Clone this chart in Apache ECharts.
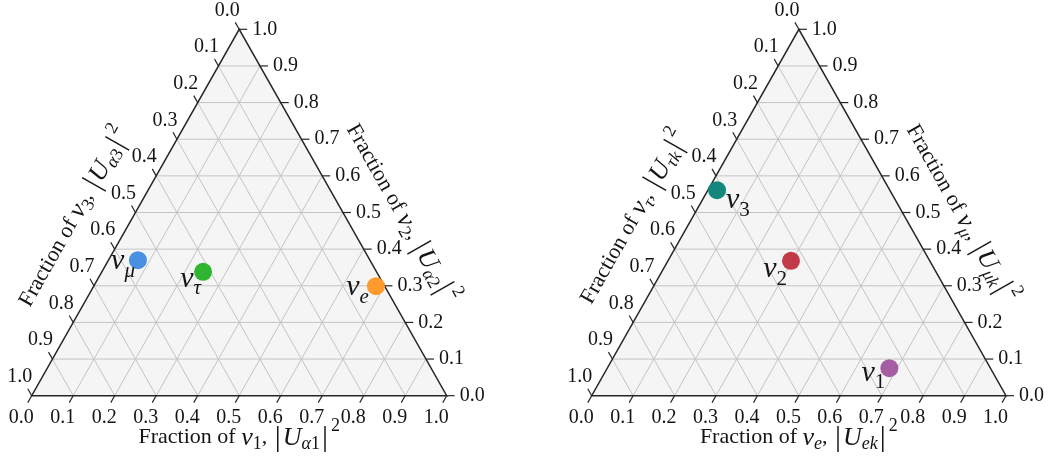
<!DOCTYPE html>
<html><head><meta charset="utf-8">
<script src="https://cdn.jsdelivr.net/npm/echarts@6/dist/echarts.min.js"></script>
<style>html,body{margin:0;padding:0;background:#fff}#c{width:1051px;height:466px}</style>
</head><body><div id="c"></div>
<script>
// ---- axis ticks ----
const tickValues = [0, 0.1, 0.2, 0.3, 0.4, 0.5, 0.6, 0.7, 0.8, 0.9, 1.0];
const tickLabels = ['0.0','0.1','0.2','0.3','0.4','0.5','0.6','0.7','0.8','0.9','1.0'];
const gridValues = [0.1, 0.2, 0.3, 0.4, 0.5, 0.6, 0.7, 0.8, 0.9];

// ---- left panel: flavour states (fractions of nu1, nu2, nu3) ----
const flavourNames = ['e', 'μ', 'τ'];
const flavourFrac1 = [0.680, 0.071, 0.244];
const flavourFrac2 = [0.299, 0.370, 0.338];
const flavourFrac3 = [0.021, 0.559, 0.418];

// ---- right panel: mass states (fractions of nu_e, nu_mu, nu_tau) ----
const massNames = ['1', '2', '3'];
const massFracE   = [0.681, 0.297, 0.022];
const massFracMu  = [0.075, 0.368, 0.561];
const massFracTau = [0.244, 0.335, 0.417];

// ---- axis titles ----
const leftTitles = {
  bottom: '{t|Fraction of }{i|ν}{s|1}{t|, }{b||}{i|U}{si|α}{s|1}{b||}{p|2}',
  right:  '{t|Fraction of }{i|ν}{s|2}{t|, }{b||}{i|U}{si|α}{s|2}{b||}{p|2}',
  left:   '{t|Fraction of }{i|ν}{s|3}{t|, }{b||}{i|U}{si|α}{s|3}{b||}{p|2}'
};
const rightTitles = {
  bottom: '{t|Fraction of }{i|ν}{si|e}{t|, }{b||}{i|U}{si|ek}{b||}{p|2}',
  right:  '{t|Fraction of }{i|ν}{si|μ}{t|, }{b||}{i|U}{si|μk}{b||}{p|2}',
  left:   '{t|Fraction of }{i|ν}{si|τ}{t|, }{b||}{i|U}{si|τk}{b||}{p|2}'
};

// ---- styles ----
const FONT = '"Liberation Serif", "DejaVu Serif", serif';
const INK = '#151515';
const flavourColors = ['#ff9a2e', '#4a90e2', '#30b530'];
const massColors = ['#a65ea3', '#c23a48', '#13877d'];
const flavourLabelStyle = [
  {position: [2, 10], align: 'right'},
  {position: [6, 10], align: 'right'},
  {position: [7, 16], align: 'right'}
];
const massLabelStyle = [
  {position: [5, 13.5], align: 'right'},
  {position: [5, 17.5], align: 'right'},
  {position: [18, 19], align: 'left'}
];

const titleRich = {
  t:  {fontFamily: FONT, fontSize: 22, color: INK, lineHeight: 26},
  i:  {fontFamily: FONT, fontSize: 26, fontStyle: 'italic', color: INK, lineHeight: 26},
  s:  {fontFamily: FONT, fontSize: 18, color: INK, lineHeight: 18, padding: [13, 0, 0, 0]},
  si: {fontFamily: FONT, fontSize: 18, fontStyle: 'italic', color: INK, lineHeight: 18, padding: [13, 0, 0, 0]},
  b:  {fontFamily: FONT, fontSize: 30, color: INK, lineHeight: 30, padding: [0, 2, 0, 2]},
  p:  {fontFamily: FONT, fontSize: 18, color: INK, lineHeight: 18, padding: [0, 0, 22, 1]}
};
const pointRich = {
  n:  {fontFamily: FONT, fontSize: 30, fontStyle: 'italic', color: INK, lineHeight: 32},
  si: {fontFamily: FONT, fontSize: 21, fontStyle: 'italic', color: INK, lineHeight: 21, padding: [20, 0, 0, 0]},
  su: {fontFamily: FONT, fontSize: 21, color: INK, lineHeight: 21, padding: [20, 0, 0, 0]}
};

function toXY(a, b) { return [a + b / 2, b]; }

function makeFrame(titles) {
  return function (params, api) {
    const P = (a, b) => api.coord(toXY(a, b));
    const A = P(0, 0), B = P(1, 0), C = P(0, 1);
    const ch = [];
    ch.push({type: 'polygon', shape: {points: [A, B, C]}, style: {fill: '#f5f5f5', stroke: null}, silent: true});
    gridValues.forEach(t => {
      const segs = [[P(t, 0), P(t, 1 - t)], [P(0, t), P(1 - t, t)], [P(1 - t, 0), P(0, 1 - t)]];
      segs.forEach(s => ch.push({type: 'line', silent: true,
        shape: {x1: s[0][0], y1: s[0][1], x2: s[1][0], y2: s[1][1]},
        style: {stroke: '#c4c4c4', lineWidth: 1}}));
    });
    ch.push({type: 'polygon', shape: {points: [A, B, C]}, silent: true,
      style: {fill: null, stroke: '#262626', lineWidth: 1.5}});
    const unit = (p, q) => { const dx = q[0] - p[0], dy = q[1] - p[1], l = Math.hypot(dx, dy); return [dx / l, dy / l]; };
    const dB = unit(C, A), dL = unit(B, C), TL = 8;
    const tick = (p, d) => {
      const e = [p[0] + d[0] * TL, p[1] + d[1] * TL];
      ch.push({type: 'line', silent: true, shape: {x1: p[0], y1: p[1], x2: e[0], y2: e[1]},
        style: {stroke: '#262626', lineWidth: 1.2}});
      return e;
    };
    const label = (txt, x, y, align) => ch.push({type: 'text', silent: true,
      style: {text: txt, x: x, y: y, align: align, verticalAlign: 'middle',
        fontFamily: FONT, fontSize: 20, fill: INK}});
    tickValues.forEach((t, i) => {
      let e = tick(P(t, 0), dB);
      label(tickLabels[i], e[0] - 6.5, e[1] + 15, 'center');
      e = tick(P(1 - t, t), [1, 0]);
      label(tickLabels[i], e[0] + 5, e[1], 'left');
      e = tick(P(0, 1 - t), dL);
      label(tickLabels[i], e[0] - 8, e[1] - 12, 'center');
    });
    const title = (txt, x, y, rot) => ch.push({type: 'text', silent: true, x: x, y: y, rotation: rot,
      style: {text: txt, rich: titleRich, x: 0, y: 0, align: 'center', verticalAlign: 'middle',
        fontFamily: FONT, fontSize: 22, fill: INK}});
    title(titles.bottom, (A[0] + B[0]) / 2, A[1] + 42, 0);
    const angR = Math.atan2(B[1] - C[1], B[0] - C[0]);
    title(titles.right, (B[0] + C[0]) / 2 + 58, (B[1] + C[1]) / 2 + 1, -angR);
    const angL = Math.atan2(A[1] - C[1], C[0] - A[0]);
    title(titles.left, (A[0] + C[0]) / 2 - 61, (A[1] + C[1]) / 2 + 5, angL);
    return {type: 'group', children: ch};
  };
}

function pointSeries(idx, names, fa, fb, colors, labelStyles, subToken) {
  return {
    type: 'scatter', xAxisIndex: idx, yAxisIndex: idx, symbolSize: 18, z: 5,
    data: names.map((n, i) => ({
      name: n, value: toXY(fa[i], fb[i]),
      itemStyle: {color: colors[i], opacity: 1},
      label: {position: labelStyles[i].position, align: labelStyles[i].align}
    })),
    label: {show: true, verticalAlign: 'middle',
      formatter: p => '{n|ν}{' + subToken + '|' + p.name + '}', rich: pointRich},
    emphasis: {disabled: true}
  };
}

const chart = echarts.init(document.getElementById('c'), null, {renderer: 'canvas'});
chart.setOption({
  animation: false,
  backgroundColor: '#ffffff',
  grid: [
    {left: 31.7, top: 29.3, width: 415, height: 366.4},
    {left: 591.7, top: 29.3, width: 414.3, height: 366.4}
  ],
  xAxis: [
    {gridIndex: 0, type: 'value', min: 0, max: 1, show: false},
    {gridIndex: 1, type: 'value', min: 0, max: 1, show: false}
  ],
  yAxis: [
    {gridIndex: 0, type: 'value', min: 0, max: 1, show: false},
    {gridIndex: 1, type: 'value', min: 0, max: 1, show: false}
  ],
  series: [
    {type: 'custom', xAxisIndex: 0, yAxisIndex: 0, clip: false, silent: true, z: 1,
      data: [[0, 0]], renderItem: makeFrame(leftTitles)},
    {type: 'custom', xAxisIndex: 1, yAxisIndex: 1, clip: false, silent: true, z: 1,
      data: [[0, 0]], renderItem: makeFrame(rightTitles)},
    pointSeries(0, flavourNames, flavourFrac1, flavourFrac2, flavourColors, flavourLabelStyle, 'si'),
    pointSeries(1, massNames, massFracE, massFracMu, massColors, massLabelStyle, 'su')
  ]
});
</script></body></html>
